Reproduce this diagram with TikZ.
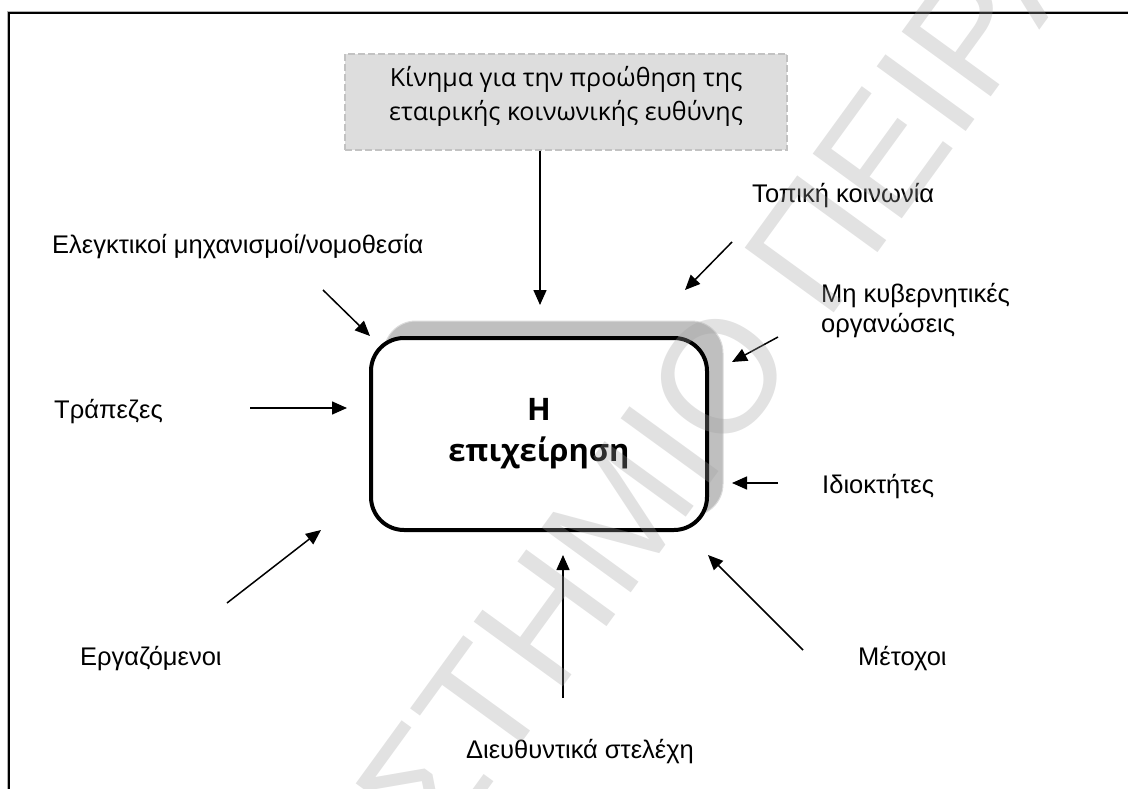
\documentclass[tikz,border=0pt]{standalone}
\usepackage{fontspec}
\setmainfont{Liberation Sans}
\newfontfamily\boxfont{Open Sans}
\usetikzlibrary{arrows.meta}
\definecolor{shadowgray}{gray}{0.75}
\definecolor{shadowedge}{gray}{0.86}
\definecolor{titlefill}{gray}{0.865}
\definecolor{titleedge}{gray}{0.76}
\definecolor{wmark}{gray}{0.62}

\begin{document}
\begin{tikzpicture}[x=1pt,y=-1pt,
  lbl/.style={font=\fontsize{25.5}{30}\selectfont, inner sep=0pt, anchor=base west},
  infl/.style={line width=1.5pt, -{Triangle[length=15pt,width=13pt]}},
]
\useasboundingbox (0,0) rectangle (1128,789);

% page frame (open at the bottom and right)
\draw[gray!60, line width=1pt] (7.5,789) -- (7.5,11.5) -- (1128,11.5);
\draw[line width=2pt] (9,789) -- (9,13) -- (1128,13);

% movement box at the top
\node[draw=titleedge, fill=titlefill, dash pattern=on 7pt off 3pt, line width=1.5pt,
      minimum width=442pt, minimum height=96pt, inner sep=0pt] (movement) at (566,102) {};
\node[font=\boxfont\fontsize{25}{34}\selectfont, align=center, inner sep=0pt]
      (movementtext) at (566,96) {Κίνημα για την προώθηση της\\εταιρικής κοινωνικής ευθύνης};

% the firm, with its grey shadow
\draw[fill=shadowgray, draw=shadowedge, line width=1pt, rounded corners=32pt]
      (384,321) rectangle (723,516);
\node[draw, line width=4pt, fill=white, rounded corners=33pt,
      minimum width=336pt, minimum height=192pt, inner sep=0pt, align=center,
      font=\boxfont\bfseries\fontsize{31}{41}\selectfont] (firm) at (539,434) {Η\\επιχείρηση};

% stakeholder labels
\node[lbl] (regulators) at (52,254) {Ελεγκτικοί μηχανισμοί/νομοθεσία};
\node[lbl] (community) at (752,203) {Τοπική κοινωνία};
\node[lbl] (ngo1) at (821,302) {Μη κυβερνητικές};
\node[lbl] (ngo2) at (821,332) {οργανώσεις};
\node[lbl] (banks) at (54,418) {Τράπεζες};
\node[lbl] (owners) at (822,493) {Ιδιοκτήτες};
\node[lbl] (employees) at (80,665) {Εργαζόμενοι};
\node[lbl] (shareholders) at (858,665) {Μέτοχοι};
\node[lbl, anchor=base] (managers) at (580,758) {Διευθυντικά στελέχη};

% arrow ends
\coordinate (regT) at (323,290);   \coordinate (regH) at (370,336);
\coordinate (bankT) at (250,408);  \coordinate (bankH) at (347,408);
\coordinate (empT) at (227,603);   \coordinate (empH) at (321,530);
\coordinate (mgrT) at (563,698);   \coordinate (mgrH) at (563,555);
\coordinate (shT) at (803,650);    \coordinate (shH) at (708,555);
\coordinate (ownT) at (778,483);   \coordinate (ownH) at (732,483);
\coordinate (ngoT) at (778,337);   \coordinate (ngoH) at (732,362);
\coordinate (comT) at (732,242);   \coordinate (comH) at (685,290);
\coordinate (movH) at (540,305);

% influences on the firm
\draw[infl] (movement.south -| movH) -- (movH);
\draw[infl] (regT) -- (regH);
\draw[infl] (bankT) -- (bankH);
\draw[infl] (empT) -- (empH);
\draw[infl] (mgrT) -- (mgrH);
\draw[infl] (shT) -- (shH);
\draw[infl] (ownT) -- (ownH);
\draw[infl] (ngoT) -- (ngoH);
\draw[infl] (comT) -- (comH);

% faint diagonal stamp across the page
\begin{scope}
  \clip (0,0) rectangle (1128,789);
  \node[rotate=54, font=\fontsize{160}{160}\selectfont, text=wmark, opacity=0.3,
        inner sep=0pt] (stamp) at (626,506) {ΠΑΝΕΠΙΣΤΗΜΙΟ ΠΕΙΡΑΙΩΣ};
\end{scope}
\end{tikzpicture}
\end{document}
